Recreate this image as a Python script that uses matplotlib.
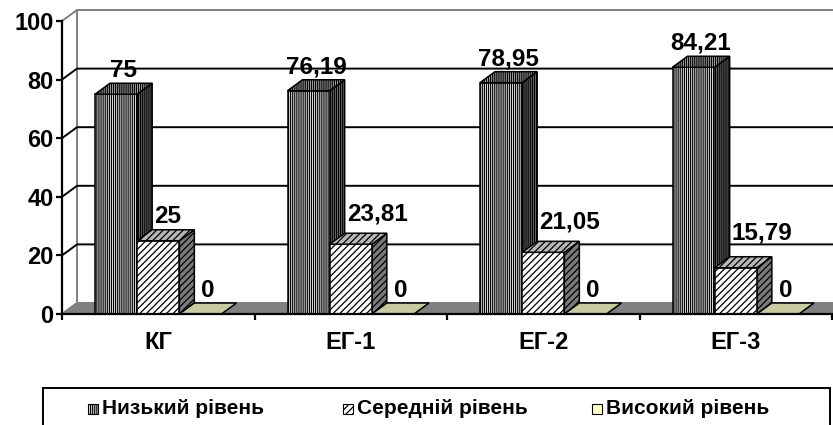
import matplotlib
matplotlib.use("Agg")
import matplotlib.pyplot as plt
from matplotlib.patches import Polygon, Rectangle

plt.rcParams["font.family"] = ["Liberation Sans", "DejaVu Sans"]
plt.rcParams["font.weight"] = "bold"
plt.rcParams["hatch.linewidth"] = 0.9

categories = ["КГ", "ЕГ-1", "ЕГ-2", "ЕГ-3"]
series_names = ["Низький рівень", "Середній рівень", "Високий рівень"]
low = [75, 76.19, 78.95, 84.21]
mid = [25, 23.81, 21.05, 15.79]
high = [0, 0, 0, 0]
yticks = [0, 20, 40, 60, 80, 100]

series = [low, mid, high]
# front / top / side colours and hatch of each series
front_colors = ["white", "white", "#FFFFCC"]
top_colors = ["#B8B8B8", "#B8B8B8", "#C9C9A2"]
side_colors = ["#7A7A7A", "#7A7A7A", "#9A9A7A"]
hatches = ["|" * 8, "/" * 5, None]
# extra lift (pixels) of the middle-series labels, per category
mid_label_lift = [0, 6, 6, 11]

W, H = 833, 425
fig = plt.figure(figsize=(W / 100, H / 100), dpi=100)
ax = fig.add_axes([62 / W, (H - 314) / H, 770 / W, 293 / H])
ax.set_xlim(0, len(categories))
ax.set_ylim(0, 100)
ax.patch.set_visible(False)

# depth of the 3-D box in data units
DX = 15 / 770 * len(categories)
DY = 11 / 293 * 100
NC = len(categories)
PX = 72 / 100  # points per pixel


def poly(pts, fc, ec, z, hatch=None, lw=1.1):
    p = Polygon(pts, closed=True, facecolor=fc, edgecolor=ec, lw=lw,
                hatch=hatch, zorder=z, clip_on=False, joinstyle="miter")
    ax.add_patch(p)


def fmt(v):
    return f"{v:g}" if float(v).is_integer() else f"{v:.2f}".replace(".", ",")


# walls and floor
poly([(DX, DY), (NC + DX, DY), (NC + DX, 100 + DY), (DX, 100 + DY)],
     "white", "#808080", 0.3, lw=1.4)
poly([(0, 0), (DX, DY), (DX, 100 + DY), (0, 100)], "white", "#808080", 0.3,
     lw=1.4)
poly([(0, 0), (NC, 0), (NC + DX, DY), (DX, DY)], "#808080", "#808080", 0.4)

# grid lines on back and side wall
for v in yticks[1:-1]:
    ax.plot([0, DX, NC + DX], [v, v + DY, v + DY], color="black", lw=1.4,
            zorder=0.5, clip_on=False, solid_capstyle="butt")

# bars
gap = 33 / 192.5
bw = (1 - 2 * gap) / 3
for i in range(NC):
    for s, vals in enumerate(series):
        v = vals[i]
        x0 = i + gap + s * bw
        x1 = x0 + bw
        z = 2 + i * 0.1 + s * 0.01
        hatch = hatches[s]
        if v > 0:
            # side face, then front face
            poly([(x1, 0), (x1 + DX, DY), (x1 + DX, v + DY), (x1, v)],
                 side_colors[s], "black", z, hatch)
            poly([(x0, 0), (x1, 0), (x1, v), (x0, v)],
                 front_colors[s], "black", z, hatch)
        # top face
        poly([(x0, v), (x1, v), (x1 + DX, v + DY), (x0 + DX, v + DY)],
             top_colors[s], "black", z, hatch)
        if s == 1:
            # placed just right of the taller neighbouring bar
            xy, ha = (x0 + DX, v + DY), "left"
            off = (2 * PX, 1 + mid_label_lift[i] * PX)
        else:
            xy, ha = ((x0 + x1 + DX) / 2, v + DY), "center"
            off = (0, 1)
        ax.annotate(fmt(v), xy, xytext=off, textcoords="offset points",
                    ha=ha, va="bottom", fontsize=17.5, fontweight="bold",
                    zorder=5, annotation_clip=False)

# axes
for side in ["top", "right"]:
    ax.spines[side].set_visible(False)
ax.spines["left"].set_linewidth(1.6)
ax.spines["bottom"].set_linewidth(1.6)
ax.spines["left"].set_zorder(3)
ax.spines["bottom"].set_zorder(3)
ax.set_yticks(yticks)
ax.set_yticklabels([str(t) for t in yticks], fontsize=17, fontweight="bold")
ax.tick_params(axis="y", length=4, width=1.6, pad=2)
ax.set_xticks(range(NC + 1))
ax.set_xticklabels([])
ax.tick_params(axis="x", which="major", length=4, width=1.6, direction="out")
ax.set_xticks([i + 0.5 for i in range(NC)], minor=True)
ax.set_xticklabels(categories, minor=True, fontsize=17, fontweight="bold")
ax.tick_params(axis="x", which="minor", length=0, pad=12)

# legend box
fig.patches.append(Rectangle((43 / W, -0.05), 787 / W, (H - 388) / H + 0.05,
                             transform=fig.transFigure, facecolor="white",
                             edgecolor="black", lw=1.4, zorder=1))
leg_x = [88, 343, 592]
for s, name in enumerate(series_names):
    yc = (H - 409) / H
    fig.patches.append(Rectangle((leg_x[s] / W, yc - 5 / H), 10 / W, 10 / H,
                                 transform=fig.transFigure,
                                 facecolor=front_colors[s], edgecolor="black",
                                 lw=0.8, hatch=hatches[s], zorder=2))
    fig.text((leg_x[s] + 14) / W, yc, name, fontsize=15, fontweight="bold",
             va="center", ha="left", zorder=3)

fig.savefig("out.png", dpi=100, facecolor="white")
